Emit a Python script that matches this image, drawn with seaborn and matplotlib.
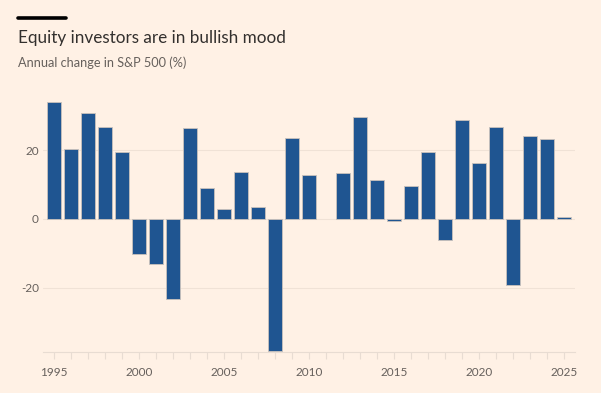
import seaborn as sns
import matplotlib.pyplot as plt
import matplotlib.ticker as mticker
from matplotlib.lines import Line2D
import pandas as pd

years = list(range(1995, 2026))
changes = [34.1, 20.3, 31.0, 26.7, 19.5, -10.1, -13.0, -23.4, 26.4, 9.0,
           3.0, 13.6, 3.5, -38.5, 23.5, 12.8, 0.0, 13.4, 29.6, 11.4,
           -0.7, 9.5, 19.4, -6.2, 28.9, 16.3, 26.9, -19.4, 24.2, 23.3, 0.5]
title = "Equity investors are in bullish mood"
subtitle = "Annual change in S&P 500 (%)"

BG = "#FFF1E5"
BAR = "#1F5591"
TXT = "#66605C"

sns.set_theme(style="white")
plt.rcParams["font.family"] = ["Lato", "DejaVu Sans"]

fig = plt.figure(figsize=(6.01, 3.93), dpi=100, facecolor=BG)
ax = fig.add_axes([43 / 601, 41 / 393, 532 / 601, 260 / 393])
ax.set_facecolor(BG)

df = pd.DataFrame({"year": years, "change": changes})
sns.barplot(data=df, x="year", y="change", native_scale=True, color=BAR,
            saturation=1, width=0.8, edgecolor="#c9c2bc", linewidth=0.6,
            ax=ax, zorder=3)
for p in ax.patches:
    if abs(p.get_height()) < 1e-9:
        p.set_visible(False)

ax.set_xlim(1994.35, 2025.65)
ax.set_ylim(-38.8, 37)
ax.set_xlabel("")
ax.set_ylabel("")

ax.xaxis.set_major_locator(mticker.FixedLocator([1995, 2000, 2005, 2010, 2015, 2020, 2025]))
ax.xaxis.set_major_formatter(mticker.FixedFormatter(["1995", "2000", "2005", "2010", "2015", "2020", "2025"]))
ax.xaxis.set_minor_locator(mticker.MultipleLocator(1))
ax.set_yticks([-20, 0, 20])
ax.set_yticklabels(["-20", "0", "20"])

ax.tick_params(axis="x", which="both", length=5, width=0.8, color="#E8DCD2",
               labelcolor=TXT, labelsize=8.5, pad=6, bottom=True)
ax.tick_params(axis="y", length=0, labelcolor=TXT, labelsize=8.5, pad=3)

for v in [-20, 0, 20]:
    ax.axhline(v, color="#F0E2D6", lw=0.8, zorder=1)

for s in ["top", "right", "left"]:
    ax.spines[s].set_visible(False)
ax.spines["bottom"].set_color("#E8DCD2")
ax.spines["bottom"].set_linewidth(0.8)

fig.add_artist(Line2D([18 / 601, 66 / 601], [1 - 18 / 393] * 2, color="black", lw=2.6))
fig.text(18 / 601, 1 - 38 / 393, title, fontsize=12.3, color="#33302E", va="center", ha="left")
fig.text(18 / 601, 1 - 63 / 393, subtitle, fontsize=9.2, color=TXT, va="center", ha="left")

fig.savefig("out.png", dpi=100, facecolor=BG)
